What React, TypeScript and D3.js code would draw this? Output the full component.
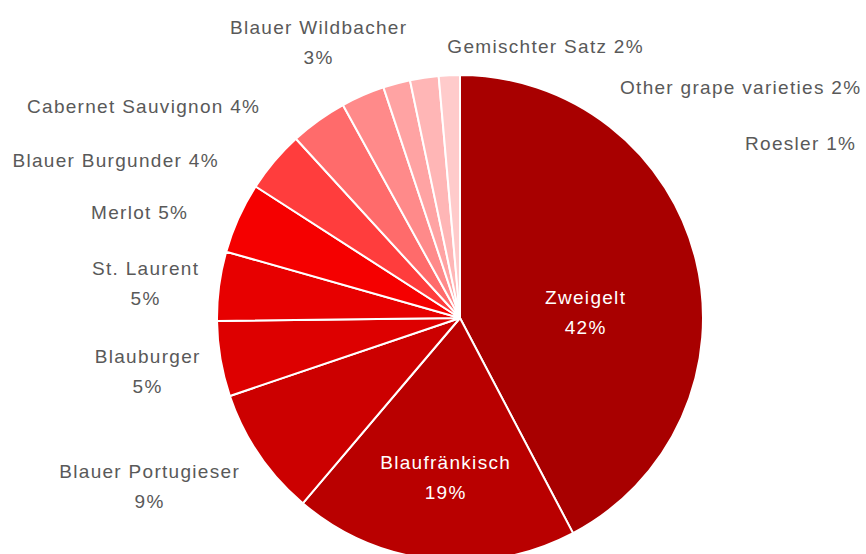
import React from "react";
import * as d3 from "d3";

const varieties = [
  "Zweigelt",
  "Blaufränkisch",
  "Blauer Portugieser",
  "Blauburger",
  "St. Laurent",
  "Merlot",
  "Blauer Burgunder",
  "Cabernet Sauvignon",
  "Blauer Wildbacher",
  "Gemischter Satz",
  "Other grape varieties",
  "Roesler",
];
const shares = [42.3, 18.9, 8.6, 5.0, 4.6, 4.7, 4.1, 3.8, 2.9, 1.8, 1.9, 1.4];
const colors = [
  "#a80000",
  "#b90000",
  "#cc0000",
  "#dd0000",
  "#e70000",
  "#f50000",
  "#ff3d3d",
  "#ff6b6b",
  "#ff8a8a",
  "#ffa3a3",
  "#ffb6b6",
  "#ffcbcb",
];
// layout: label center (x, first-line center y), two-line flag, inside flag
const labelLayout: [number, number, boolean, boolean][] = [
  [585, 297, true, true],
  [445, 462, true, true],
  [149, 471, true, false],
  [147, 356, true, false],
  [145, 268, true, false],
  [139, 212, false, false],
  [115, 160, false, false],
  [143, 106, false, false],
  [318, 27, true, false],
  [545, 46, false, false],
  [740, 87, false, false],
  [800, 143, false, false],
];

const W = 866;
const H = 554;
const cx = 460;
const cy = 318;
const R = 243;
const LS = 1.3;

export default function App() {
  const data = varieties.map((name, i) => ({ name, value: shares[i], i }));
  const pie = d3
    .pie<any>()
    .sort(null)
    .value((d) => d.value)
    .startAngle(0)
    .endAngle(2 * Math.PI);
  const arcs = pie(data);
  const arc = d3.arc<any>().innerRadius(0).outerRadius(R);
  const total = d3.sum(shares);
  const fmt = (v: number) => `${Math.round((v / total) * 100)}%`;
  const lineGap = 30;

  return (
    <svg
      width={W}
      height={H}
      style={{ position: "absolute", left: 0, top: 0, background: "#fff" }}
      fontFamily="'Liberation Sans', Arial, sans-serif"
    >
      <g transform={`translate(${cx},${cy})`}>
        {arcs.map((a, i) => (
          <path
            key={i}
            d={arc(a) as string}
            fill={colors[i]}
            stroke="#fff"
            strokeWidth={2}
            strokeLinejoin="round"
          />
        ))}
      </g>
      {arcs.map((a, i) => {
        const [x0, y, two, inside] = labelLayout[i];
        const x = x0 + LS / 2;
        const fill = inside ? "#ffffff" : "#595959";
        const pct = fmt(a.data.value);
        return (
          <text
            key={i}
            x={x}
            y={y}
            fill={fill}
            fontSize={19}
            letterSpacing={LS}
            textAnchor="middle"
            dominantBaseline="central"
          >
            {two ? (
              <>
                <tspan x={x} y={y}>
                  {a.data.name}
                </tspan>
                <tspan x={x} y={y + lineGap}>
                  {pct}
                </tspan>
              </>
            ) : (
              `${a.data.name} ${pct}`
            )}
          </text>
        );
      })}
    </svg>
  );
}
